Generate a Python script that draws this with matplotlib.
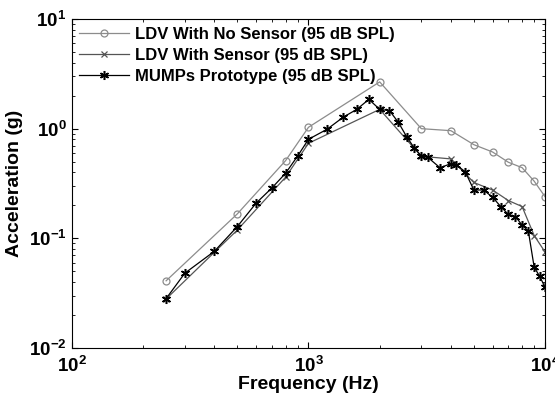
import math
import matplotlib
matplotlib.use('Agg')
import matplotlib.pyplot as plt
from matplotlib.ticker import FuncFormatter, LogLocator

plt.rcParams['font.family'] = ['Liberation Sans', 'DejaVu Sans']
plt.rcParams['font.weight'] = 'bold'
plt.rcParams['mathtext.fontset'] = 'custom'
plt.rcParams['mathtext.rm'] = 'Liberation Sans:bold'
plt.rcParams['mathtext.bf'] = 'Liberation Sans:bold'

# LDV with no sensor
freq_nosensor = [250, 500, 800, 1000, 2000, 3000, 4000, 5000, 6000, 7000, 8000, 9000, 10000]
acc_nosensor = [0.041, 0.167, 0.511, 1.03, 2.67, 1.0, 0.959, 0.715, 0.613, 0.494, 0.441, 0.332, 0.240]

# LDV with sensor
freq_sensor = [250, 500, 800, 1000, 2000, 3000, 4000, 5000, 6000, 7000, 8000, 9000, 10000]
acc_sensor = [0.028, 0.119, 0.361, 0.736, 1.50, 0.56, 0.53, 0.323, 0.276, 0.221, 0.195, 0.106, 0.0752]

# MUMPs prototype
freq_mumps = [250, 300, 400, 500, 600, 700, 800, 900, 1000, 1200, 1400, 1600, 1800, 2000,
              2200, 2400, 2600, 2800, 3000, 3200, 3600, 4000, 4200, 4600, 5000, 5500,
              6000, 6500, 7000, 7500, 8000, 8500, 9000, 9500, 10000]
acc_mumps = [0.0282, 0.0481, 0.0762, 0.128, 0.209, 0.288, 0.392, 0.564, 0.80, 0.99, 1.27, 1.50, 1.85, 1.50,
             1.46, 1.14, 0.845, 0.667, 0.564, 0.546, 0.44, 0.48, 0.47, 0.405, 0.276, 0.276,
             0.237, 0.195, 0.165, 0.158, 0.132, 0.117, 0.0545, 0.045, 0.0358]

fig = plt.figure(figsize=(5.55, 3.96), dpi=100)
ax = fig.add_axes([0.1297, 0.1212, 0.982 - 0.1297, 0.952 - 0.1212])

ax.loglog(freq_nosensor, acc_nosensor, color='#8c8c8c', lw=0.9, marker='o', ms=5,
          mfc='none', mec='#8c8c8c', mew=0.9, label='LDV With No Sensor (95 dB SPL)')
ax.loglog(freq_sensor, acc_sensor, color='#555555', lw=0.9, marker='x', ms=5,
          mew=0.9, label='LDV With Sensor (95 dB SPL)')
ax.loglog(freq_mumps, acc_mumps, color='black', lw=0.9, marker=(6, 2, 0), ms=6.5,
          mew=1.1, label='MUMPs Prototype (95 dB SPL)')

ax.set_xlim(100, 10000)
ax.set_ylim(0.01, 10)

fmt = FuncFormatter(lambda v, p: r'$\mathbf{10^{%d}}$' % round(math.log10(v)))
ax.xaxis.set_major_formatter(fmt)
ax.yaxis.set_major_formatter(fmt)
ax.xaxis.set_minor_locator(LogLocator(base=10, subs=range(2, 10)))
ax.yaxis.set_minor_locator(LogLocator(base=10, subs=range(2, 10)))
ax.tick_params(which='both', direction='in', top=True, right=True, labelsize=13.5)
ax.tick_params(which='major', length=4, pad=4)
ax.tick_params(axis='x', which='major', pad=6)
ax.tick_params(which='minor', length=2.5)

ax.set_xlabel('Frequency (Hz)', fontsize=14, fontweight='bold', labelpad=0)
ax.set_ylabel('Acceleration (g)', fontsize=14, fontweight='bold', labelpad=4)

leg = ax.legend(loc='upper left', frameon=False, handlelength=3.0,
                borderaxespad=0, borderpad=0.45, labelspacing=0.36, handletextpad=0.35,
                prop={'weight': 'bold', 'size': 12})

fig.savefig('out.png', dpi=100)
